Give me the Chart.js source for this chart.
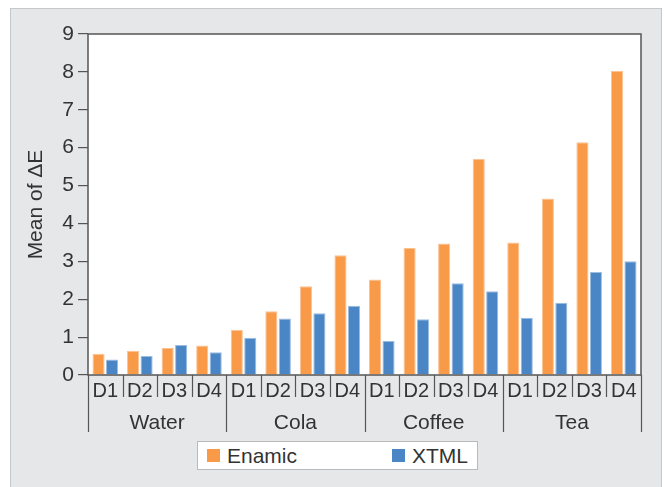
<!DOCTYPE html>
<html lang="en">
<head>
    <meta charset="UTF-8">
    <title>Mean of ΔE by drink and day</title>
    <script src="https://cdn.jsdelivr.net/npm/chart.js"></script>
    <style>
        body {
            margin: 0;
            padding: 0;
            background: #ffffff;
            font-family: 'Liberation Sans', Arial, sans-serif;
        }

        .wrap {
            position: relative;
            width: 665px;
            height: 487px;
            overflow: hidden;
        }

        .panel {
            position: absolute;
            left: 10px;
            top: 8px;
            width: 650px;
            height: 490px;
            background: #e6e7e9;
            border: 1px solid #c6c7c9;
        }

        canvas {
            position: absolute;
            left: 0;
            top: 0;
        }

        .legend {
            position: absolute;
            left: 197px;
            top: 441px;
            width: 279px;
            height: 27px;
            background: #fff;
            border: 1px solid #b9babc;
            color: #333;
            font-size: 21px;
        }

        .legend span {
            position: absolute;
            top: 1px;
            line-height: 25px;
        }

        .legend i {
            position: absolute;
            top: 7px;
            width: 13px;
            height: 13px;
        }
    </style>
</head>
<body>
    <div class="wrap">
        <div class="panel"></div>
        <canvas id="chart" width="665" height="487"></canvas>
        <div class="legend" id="legend"></div>
    </div>

    <script>
        // data
        const groups = ['Water', 'Cola', 'Coffee', 'Tea'];
        const days = ['D1', 'D2', 'D3', 'D4'];
        const enamic = [0.56, 0.64, 0.71, 0.78, 1.19, 1.68, 2.34, 3.16, 2.52, 3.35, 3.47, 5.70, 3.50, 4.66, 6.14, 8.03];
        const xtml = [0.41, 0.50, 0.79, 0.60, 0.98, 1.49, 1.63, 1.83, 0.90, 1.47, 2.42, 2.21, 1.51, 1.91, 2.72, 3.00];
        const yTicks = [0, 1, 2, 3, 4, 5, 6, 7, 8, 9];

        const labels = [];
        groups.forEach(g => days.forEach(d => labels.push(d)));

        const orange = '#f89a48';
        const blue = '#4a86c6';
        const ink = '#333333';
        const lineCol = '#555555';
        const fontFamily = "'Liberation Sans', Arial, sans-serif";

        // white plot area, frame, separators and group labels
        const framePlugin = {
            id: 'frame',
            beforeDraw(chart) {
                const a = chart.chartArea;
                const ctx = chart.ctx;
                ctx.save();
                ctx.fillStyle = '#fff';
                ctx.fillRect(a.left, a.top, a.right - a.left, a.bottom - a.top);
                ctx.restore();
            },
            afterDraw(chart) {
                const a = chart.chartArea;
                const ctx = chart.ctx;
                const x = chart.scales.x;
                const n = labels.length;
                const step = x.getPixelForValue(1) - x.getPixelForValue(0);

                ctx.save();
                ctx.strokeStyle = lineCol;
                ctx.lineWidth = 1.5;
                ctx.strokeRect(a.left, a.top, a.right - a.left, a.bottom - a.top);

                ctx.lineWidth = 1.2;
                for (let i = 0; i <= n; i++) {
                    const px = Math.round(x.getPixelForValue(i) - step / 2) + 0.5;
                    const long = i % days.length === 0;
                    ctx.beginPath();
                    ctx.moveTo(px, a.bottom);
                    ctx.lineTo(px, a.bottom + (long ? 57 : 22));
                    ctx.stroke();
                }

                ctx.fillStyle = ink;
                ctx.font = '21px ' + fontFamily;
                ctx.textAlign = 'center';
                ctx.textBaseline = 'middle';
                groups.forEach((g, gi) => {
                    const first = x.getPixelForValue(gi * days.length);
                    const last = x.getPixelForValue(gi * days.length + days.length - 1);
                    ctx.fillText(g, (first + last) / 2, a.bottom + 48);
                });
                ctx.restore();
            }
        };

        new Chart(document.getElementById('chart'), {
            type: 'bar',
            data: {
                labels: labels,
                datasets: [
                    {
                        label: 'Enamic',
                        data: enamic,
                        backgroundColor: orange,
                        borderColor: '#fbc394',
                        borderWidth: 1
                    },
                    {
                        label: 'XTML',
                        data: xtml,
                        backgroundColor: blue,
                        borderColor: '#9dbde0',
                        borderWidth: 1
                    }
                ]
            },
            options: {
                responsive: false,
                animation: false,
                layout: {
                    padding: { left: 0, top: 34, right: 24, bottom: 0 }
                },
                datasets: {
                    bar: {
                        categoryPercentage: 0.78,
                        barPercentage: 0.9
                    }
                },
                plugins: {
                    legend: { display: false },
                    tooltip: { enabled: false }
                },
                scales: {
                    x: {
                        grid: { display: false, drawTicks: false },
                        border: { display: false },
                        ticks: {
                            color: ink,
                            font: { family: fontFamily, size: 20 },
                            padding: 4,
                            maxRotation: 0,
                            autoSkip: false
                        },
                        afterFit(scale) { scale.height = 112; }
                    },
                    y: {
                        min: 0,
                        max: 9,
                        afterBuildTicks(scale) {
                            scale.ticks = yTicks.map(v => ({ value: v }));
                        },
                        grid: {
                            drawOnChartArea: false,
                            drawTicks: true,
                            tickLength: 10,
                            color: lineCol,
                            lineWidth: 1.2
                        },
                        border: { display: false },
                        ticks: {
                            color: ink,
                            font: { family: fontFamily, size: 21 },
                            padding: 4
                        },
                        title: {
                            display: true,
                            text: 'Mean of ΔE',
                            color: ink,
                            font: { family: fontFamily, size: 21 },
                            padding: { top: 24, bottom: 0 }
                        },
                        afterFit(scale) { scale.width = 88; }
                    }
                }
            },
            plugins: [framePlugin]
        });

        // legend box
        const legend = document.getElementById('legend');
        const items = [
            { label: 'Enamic', color: orange, left: 9 },
            { label: 'XTML', color: blue, left: 194 }
        ];
        items.forEach(it => {
            legend.innerHTML += `<i style="left:${it.left}px;background:${it.color}"></i>` +
                `<span style="left:${it.left + 20}px">${it.label}</span>`;
        });
    </script>
</body>
</html>
